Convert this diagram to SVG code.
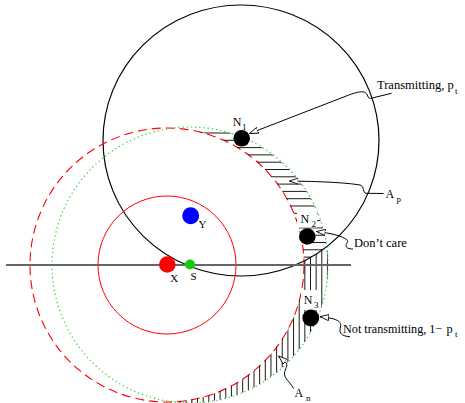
<svg xmlns="http://www.w3.org/2000/svg" width="465" height="403" viewBox="0 0 465 403">
<style>
text{font-family:"Liberation Serif","Times New Roman",serif;fill:#000}
.lbl{font-size:12px}
.big{font-size:12.5px}
.sm{font-size:11px}
.sub{font-size:9px}
.lead{fill:none;stroke:#000;stroke-width:1;marker-end:url(#arr)}
.hatch line{stroke:#000;stroke-width:0.9}
</style>
<defs>
<marker id="arr" viewBox="0 0 10 8" refX="10" refY="4" markerWidth="9" markerHeight="7" orient="auto" markerUnits="userSpaceOnUse">
<path d="M0,0.5 L10,4 L0,7.5 Z" fill="#fff" stroke="#000" stroke-width="1"/>
</marker>
<clipPath id="cres">
<path clip-rule="evenodd" d="M52,265 a138,138 0 1,0 276,0 a138,138 0 1,0 -276,0 Z M30,265 a137,137 0 1,0 274,0 a137,137 0 1,0 -274,0 Z"/>
</clipPath>
<clipPath id="inB"><ellipse cx="241" cy="140.5" rx="138" ry="135.5"/></clipPath>
<clipPath id="outB"><path clip-rule="evenodd" d="M0,0 H465 V403 H0 Z M103,140.5 a138,135.5 0 1,0 276,0 a138,135.5 0 1,0 -276,0 Z"/></clipPath>
</defs>

<g id="regions">
<ellipse cx="241" cy="140.5" rx="138" ry="135.5" fill="none" stroke="#000" stroke-width="1.2"/>
<circle cx="167" cy="265" r="69" fill="none" stroke="#ff0000" stroke-width="1"/>
<circle cx="167" cy="265" r="137" fill="none" stroke="#ff0000" stroke-width="1.1" stroke-dasharray="9 5"/>
<circle cx="190" cy="265" r="138" fill="none" stroke="#22cc22" stroke-width="1.2" stroke-dasharray="1.2 3"/>
</g>

<g id="hatch-Ap" class="hatch" clip-path="url(#cres)"><g clip-path="url(#inB)">
<line x1="173" y1="133" x2="340" y2="133"/>
<line x1="173" y1="140.3" x2="340" y2="140.3"/>
<line x1="173" y1="147.6" x2="340" y2="147.6"/>
<line x1="173" y1="154.9" x2="340" y2="154.9"/>
<line x1="173" y1="162.2" x2="340" y2="162.2"/>
<line x1="173" y1="169.5" x2="340" y2="169.5"/>
<line x1="173" y1="176.8" x2="340" y2="176.8"/>
<line x1="173" y1="184.1" x2="340" y2="184.1"/>
<line x1="173" y1="191.4" x2="340" y2="191.4"/>
<line x1="173" y1="198.7" x2="340" y2="198.7"/>
<line x1="173" y1="206" x2="340" y2="206"/>
<line x1="173" y1="213.3" x2="340" y2="213.3"/>
<line x1="173" y1="220.6" x2="340" y2="220.6"/>
<line x1="173" y1="227.9" x2="340" y2="227.9"/>
<line x1="173" y1="235.2" x2="340" y2="235.2"/>
<line x1="173" y1="242.5" x2="340" y2="242.5"/>
<line x1="173" y1="249.8" x2="340" y2="249.8"/>
<line x1="173" y1="257.1" x2="340" y2="257.1"/>
<line x1="173" y1="264.4" x2="340" y2="264.4"/>
</g></g>

<g id="hatch-An" class="hatch" clip-path="url(#cres)"><g clip-path="url(#outB)">
<line x1="174.9" y1="120" x2="174.9" y2="403"/>
<line x1="180.55" y1="120" x2="180.55" y2="403"/>
<line x1="186.2" y1="120" x2="186.2" y2="403"/>
<line x1="191.85" y1="120" x2="191.85" y2="403"/>
<line x1="197.5" y1="120" x2="197.5" y2="403"/>
<line x1="203.15" y1="120" x2="203.15" y2="403"/>
<line x1="208.8" y1="120" x2="208.8" y2="403"/>
<line x1="214.45" y1="120" x2="214.45" y2="403"/>
<line x1="220.1" y1="120" x2="220.1" y2="403"/>
<line x1="225.75" y1="120" x2="225.75" y2="403"/>
<line x1="231.4" y1="120" x2="231.4" y2="403"/>
<line x1="237.05" y1="120" x2="237.05" y2="403"/>
<line x1="242.7" y1="120" x2="242.7" y2="403"/>
<line x1="248.35" y1="120" x2="248.35" y2="403"/>
<line x1="254" y1="120" x2="254" y2="403"/>
<line x1="259.65" y1="120" x2="259.65" y2="403"/>
<line x1="265.3" y1="120" x2="265.3" y2="403"/>
<line x1="270.95" y1="120" x2="270.95" y2="403"/>
<line x1="276.6" y1="120" x2="276.6" y2="403"/>
<line x1="282.25" y1="120" x2="282.25" y2="403"/>
<line x1="287.9" y1="120" x2="287.9" y2="403"/>
<line x1="293.55" y1="120" x2="293.55" y2="403"/>
<line x1="299.2" y1="120" x2="299.2" y2="403"/>
<line x1="304.85" y1="120" x2="304.85" y2="403"/>
<line x1="310.5" y1="120" x2="310.5" y2="403"/>
<line x1="316.15" y1="120" x2="316.15" y2="403"/>
<line x1="321.8" y1="120" x2="321.8" y2="403"/>
<line x1="327.45" y1="120" x2="327.45" y2="403"/>
</g></g>

<g id="axis"><line x1="6" y1="265" x2="351" y2="265" stroke="#666" stroke-width="1.8"/></g>

<g id="connectors">
<path class="lead" d="M391.5,93.3 L370.5,98.4 C367.5,99 368,93.5 364.5,92.2 C361,91 355,92.5 345,96.5 L249.5,133.5"/>
<path class="lead" d="M383.5,193.5 L366,193.3 C362.5,193 364.5,186 360,185 C345,182.5 320,181.5 289.5,181"/>
<path class="lead" d="M353,249 C349,249 346,248 346,245.5 C346,243 349,242 347,240 C343,236 330,233 316.5,231.5"/>
<path class="lead" d="M350,336.7 C344,336.5 340,334 340,331 C340,327 342,324 339,321.5 C335,318.5 328,317.5 320,316.7"/>
<path class="lead" d="M293.5,388.5 C291,383 285,379 284.5,374.5 C284,370 288,367 286.5,363.5 C285,361 282,359 278.5,356"/>
</g>

<g id="node-X"><circle cx="167.3" cy="264.5" r="8.3" fill="#ff0000"/><text class="sm" x="170.2" y="282">X</text></g>
<g id="node-S"><circle cx="190" cy="264.5" r="5" fill="#11cc11"/><text class="sm" x="190.5" y="279.5">S</text></g>
<g id="node-Y"><circle cx="190.7" cy="215.7" r="8.5" fill="#0000ff"/><text class="sm" x="198.5" y="227.5">Y</text></g>

<g id="node-N1"><circle cx="241.7" cy="138.3" r="8.3" fill="#000"/><text class="lbl" x="232.8" y="125.5">N<tspan class="sub" x="242" y="130">1</tspan></text></g>
<g id="node-N2"><rect x="297" y="209" width="20" height="18.5" fill="#fff"/><circle cx="307.3" cy="236.5" r="8.3" fill="#000"/><text class="lbl" x="300.5" y="222.7">N<tspan class="sub" x="311.5" y="226.5">2</tspan></text></g>
<g id="node-N3"><rect x="301" y="290" width="19.5" height="20" fill="#fff"/><circle cx="310.8" cy="318" r="8.4" fill="#000"/><text class="lbl" x="303.8" y="303.5">N<tspan class="sub" x="314" y="307.5">3</tspan></text></g>

<g id="label-Transmitting"><text class="big" x="377" y="89.3">Transmitting, p<tspan class="sub" x="455" y="93.5">t</tspan></text></g>
<g id="label-Ap"><text class="lbl" x="385.5" y="197.5">A<tspan class="sub" x="396.5" y="201.5">p</tspan></text></g>
<g id="label-DontCare"><text class="big" x="354" y="247.3">Don’t care</text></g>
<g id="label-NotTransmitting"><text style="font-size:12.2px" x="343" y="332.7">Not transmitting, 1−<tspan x="446.5">p</tspan><tspan class="sub" x="455" y="337">t</tspan></text></g>
<g id="label-An"><text class="lbl" x="294.5" y="396.7">A<tspan class="sub" x="306" y="400.5">n</tspan></text></g>
</svg>
